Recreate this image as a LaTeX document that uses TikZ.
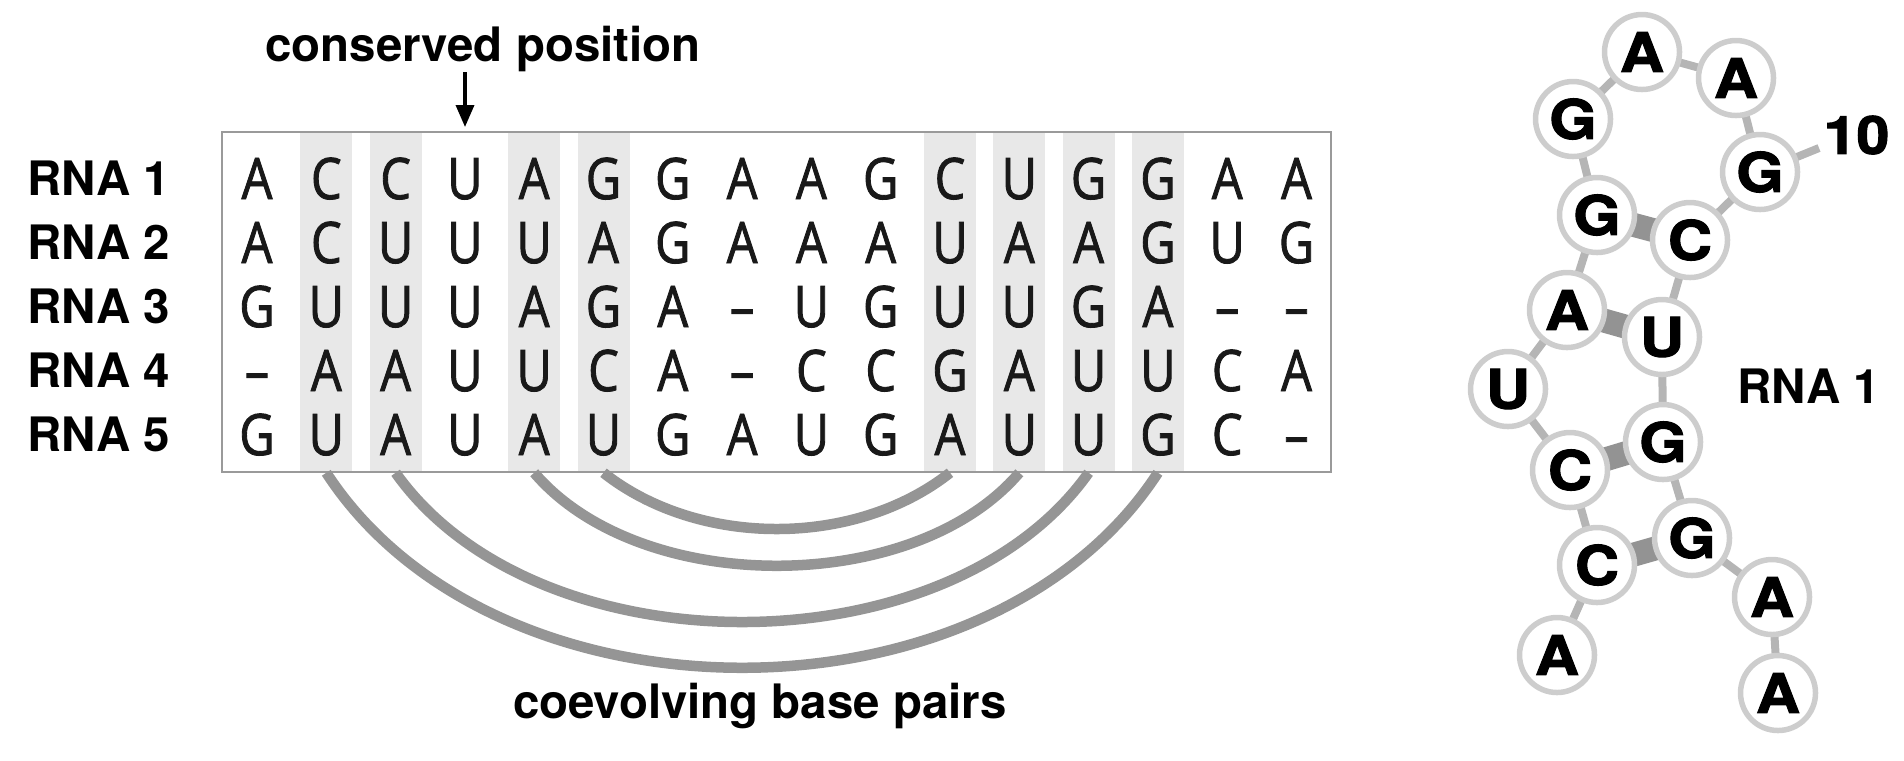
\documentclass[tikz,border=0pt]{standalone}
\usepackage{fontspec}
\setmainfont{TeX Gyre Heros}
\newfontfamily\seqfont[FakeStretch=0.85, FakeBold=1.5]{Open Sans}
\newfontfamily\ntfont[FakeStretch=1.12, FakeBold=2]{texgyreheros-bold.otf}
\usetikzlibrary{arrows.meta,backgrounds}
\definecolor{shadegray}{HTML}{E8E8E8}
\definecolor{boxgray}{HTML}{9A9A9A}
\definecolor{arcgray}{HTML}{959595}
\definecolor{ringgray}{HTML}{CDCDCD}
\definecolor{bbgray}{HTML}{B5B5B5}
\definecolor{bpgray}{HTML}{939393}

\begin{document}
\begin{tikzpicture}[x=0.1mm, y=-0.1mm,
    lbl/.style={font=\fontsize{13.5}{16}\selectfont\bfseries, inner sep=0pt},
    rnaname/.style={lbl, anchor=west},
    nuc/.style={font=\fontsize{16.3}{19}\seqfont, text=black!90, inner sep=0pt, text height=4.1mm, text depth=0pt},
    alnbox/.style={draw=boxgray, line width=0.15mm, minimum width=110.9mm, minimum height=34mm, inner sep=0pt},
    colshade/.style={fill=shadegray},
    pairarc/.style={draw=arcgray, line width=1.05mm},
    arr/.style={-{Triangle[length=2.2mm,width=1.8mm]}, line width=0.35mm},
    nt/.style={circle, draw=ringgray, line width=0.55mm, fill=white, minimum size=7.5mm, inner sep=0pt, font=\fontsize{15.5}{18}\ntfont},
    backbone/.style={draw=bbgray, line width=0.8mm},
    bpair/.style={draw=bpgray, line width=2.4mm}
]
    \useasboundingbox (0,0) rectangle (1904,760);

    % alignment
    \foreach \c in {2,3,5,6,11,12,13,14}
        \fill[colshade] ({257+(\c-1)*69.3-26},132) rectangle ++(52,340);
    \node[alnbox] (aln) at (776.5,302) {};
    \foreach \seq [count=\r] in {{A,C,C,U,A,G,G,A,A,G,C,U,G,G,A,A},
                                 {A,C,U,U,U,A,G,A,A,A,U,A,A,G,U,G},
                                 {G,U,U,U,A,G,A,\textendash,U,G,U,U,G,A,\textendash,\textendash},
                                 {\textendash,A,A,U,U,C,A,\textendash,C,C,G,A,U,U,C,A},
                                 {G,U,A,U,A,U,G,A,U,G,A,U,U,G,C,\textendash}} {
        \node[rnaname] (rna\r) at (27,{178.5+(\r-1)*64}) {RNA \r};
        \foreach \b [count=\c] in \seq
            \node[nuc] (b\r-\c) at ({257+(\c-1)*69.3},{178.5+(\r-1)*64}) {\b};
    }

    \node[lbl, anchor=base] (cons) at (483,61) {conserved position};
    \coordinate (cpos) at (465,127);
    \draw[arr] (cons.south -| cpos) -- (cpos);

    \draw[pairarc] (b5-6 |- aln.south) .. controls +(95,75) and +(-95,75) .. (b5-11 |- aln.south);
    \draw[pairarc] (b5-5 |- aln.south) .. controls +(106,124) and +(-106,124) .. (b5-12 |- aln.south);
    \draw[pairarc] (b5-3 |- aln.south) .. controls +(141,199) and +(-141,199) .. (b5-13 |- aln.south);
    \draw[pairarc] (b5-2 |- aln.south) .. controls +(169,260) and +(-169,260) .. (b5-14 |- aln.south);
    \node[lbl, anchor=base] (coev) at (760,718) {coevolving base pairs};

    % secondary structure
    \foreach \b/\x/\y [count=\i] in {A/1557/655, C/1597/565, C/1570/470, U/1508/389,
                                     A/1567/310, G/1597/215, G/1573/119, A/1642/52,
                                     A/1736/78, G/1760/172, C/1690/240, U/1662/337,
                                     G/1663/442, G/1692/538, A/1772/597, A/1778/693}
        \node[nt] (n\i) at (\x,\y) {\b};
    \node[anchor=west, inner sep=0pt, font=\fontsize{15}{18}\ntfont] (pos10) at (1823,135) {10};
    \coordinate (tick10) at (1819,148);
    \node[rnaname] (rnaright) at (1737,386) {RNA 1};

    \begin{scope}[on background layer]
        \foreach \i [evaluate=\i as \j using int(\i+1)] in {1,...,15}
            \draw[backbone] (n\i.center) -- (n\j.center);
        \draw[backbone] (n10.center) -- (tick10);
        \foreach \a/\b in {2/14,3/13,5/12,6/11}
            \draw[bpair] (n\a.center) -- (n\b.center);
    \end{scope}
\end{tikzpicture}
\end{document}
